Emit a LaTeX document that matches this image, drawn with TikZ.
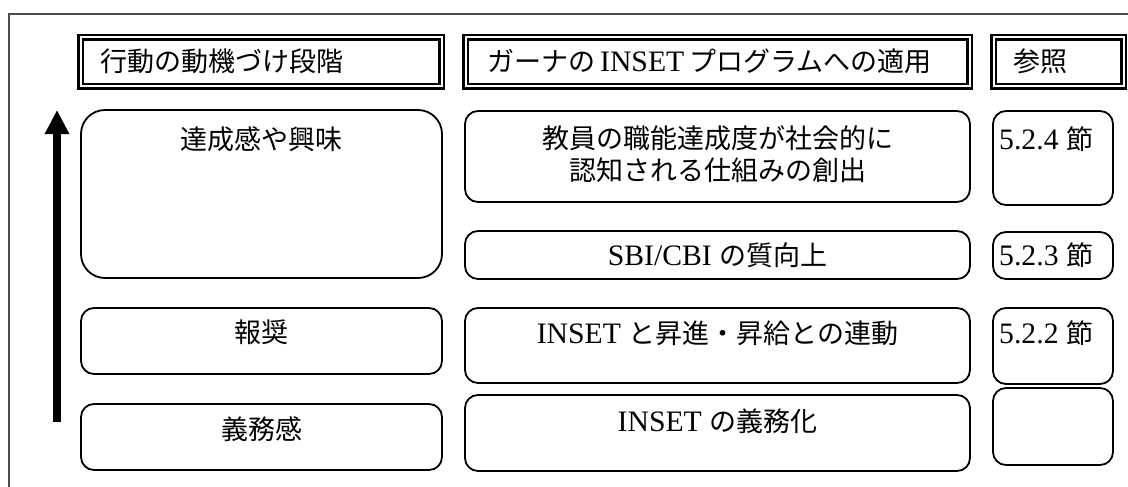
\documentclass[tikz,border=0pt]{standalone}
\usepackage{fontspec}
\setmainfont{Liberation Serif}[Scale=1.1]
\newfontfamily\jp{Noto Sans CJK JP}
\usetikzlibrary{arrows.meta}
\begin{document}
\begin{tikzpicture}[x=1pt,y=-1pt,
  hdr/.style={draw=black, line width=2.5pt, double=white, double distance=2pt, rectangle, inner sep=0pt},
  rbox/.style={draw=black, line width=1.8pt, rectangle, rounded corners=13pt, inner sep=0pt},
  txt/.style={font=\fontsize{27}{32}\selectfont, inner sep=0pt},
  frameline/.style={draw=black!70, line width=1.2pt},
  uparrow/.style={line width=8pt, -{Triangle[width=23pt,length=24pt]}}
]
\useasboundingbox (0,0) rectangle (1128,487);
% partial frame
\coordinate (fb) at (9,487);
\coordinate (fc) at (9,14);
\coordinate (fr) at (1128,14);
\draw[frameline] (fb) -- (fc) -- (fr);

% headers
\node[hdr, minimum width=361pt, minimum height=49pt] (h1) at (261,62) {};
\node[hdr, minimum width=504pt, minimum height=49pt] (h2) at (717.5,62) {};
\node[hdr, minimum width=130pt, minimum height=49pt] (h3) at (1058.5,62) {};
\node[txt, anchor=base west] (h1t) at (100,72) {\jp 行動の動機づけ段階};
\node[txt, anchor=base west] (h2t) at (487,72) {{\jp ガーナの}\,INSET\,{\jp プログラムへの適用}};
\node[txt, anchor=base west] (h3t) at (1013,72) {\jp 参照};

% left column
\node[rbox, rounded corners=24pt, minimum width=361pt, minimum height=168pt] (L1) at (261.5,194) {};
\node[rbox, minimum width=361pt, minimum height=66pt] (L2) at (261.5,341) {};
\node[rbox, minimum width=361pt, minimum height=66pt] (L3) at (261.5,437) {};
\node[txt, anchor=base] (L1t) at (261.5,149) {\jp 達成感や興味};
\node[txt, anchor=base] (L2t) at (261.5,342) {\jp 報奨};
\node[txt, anchor=base] (L3t) at (261.5,439) {\jp 義務感};

% middle column
\node[rbox, minimum width=505pt, minimum height=91pt] (M1) at (717.5,156.5) {};
\node[rbox, minimum width=505pt, minimum height=48pt] (M2) at (717.5,255) {};
\node[rbox, minimum width=505pt, minimum height=75pt] (M3) at (717.5,345.5) {};
\node[rbox, minimum width=505pt, minimum height=76pt] (M4) at (717.5,433) {};
\node[txt, anchor=base, align=center] (M1t) at (717.5,180) {\jp 教員の職能達成度が社会的に\\\jp 認知される仕組みの創出};
\node[txt, anchor=base] (M2t) at (717.5,265) {SBI/CBI {\jp の質向上}};
\node[txt, anchor=base] (M3t) at (717.5,343) {INSET {\jp と昇進・昇給との連動}};
\node[txt, anchor=base] (M4t) at (717.5,431) {INSET {\jp の義務化}};

% right column
\node[rbox, minimum width=120pt, minimum height=94pt] (R1) at (1053,158) {};
\node[rbox, minimum width=120pt, minimum height=47pt] (R2) at (1053,255.5) {};
\node[rbox, minimum width=120pt, minimum height=76pt] (R3) at (1053,346) {};
\node[rbox, minimum width=120pt, minimum height=77pt] (R4) at (1053,426.5) {};
\node[txt, anchor=base west] (R1t) at (999,149) {5.2.4 {\jp 節}};
\node[txt, anchor=base west] (R2t) at (999,265) {5.2.3 {\jp 節}};
\node[txt, anchor=base west] (R3t) at (999,343) {5.2.2 {\jp 節}};

% upward arrow
\coordinate (ab) at (57,422);
\coordinate (at) at (57,110);
\draw[uparrow] (ab) -- (at);
\end{tikzpicture}
\end{document}
